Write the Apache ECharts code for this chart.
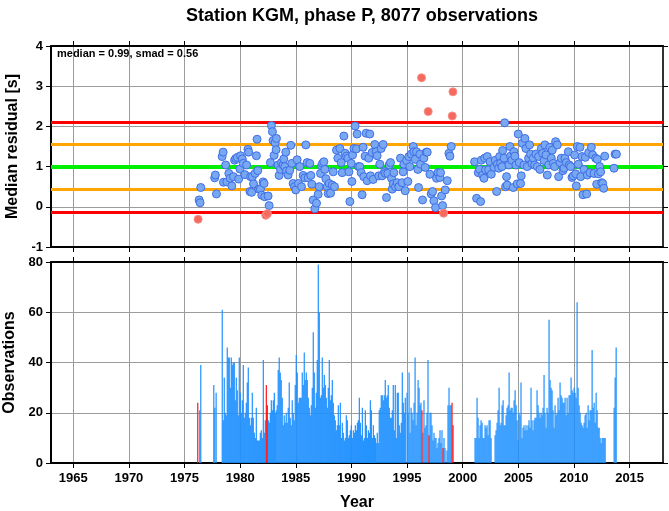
<!DOCTYPE html>
<html>
<head>
<meta charset="utf-8">
<script src="https://cdn.jsdelivr.net/npm/echarts@6/dist/echarts.min.js"></script>
<style>
html,body{margin:0;padding:0;background:#fff;}
#chart{width:669px;height:511px;}
</style>
</head>
<body>
<div id="chart"></div>
<script>
// ---------------- data ----------------
const chartTitle = 'Station KGM, phase P, 8077 observations';
const medianValue = 0.99;
const smadValue = 0.56;
const tickYears = [1965, 1970, 1975, 1980, 1985, 1990, 1995, 2000, 2005, 2010, 2015];
// reference lines: median +/- 2 smad (red), +/- 1 smad (orange), median (green)
const redLines = [2.11, -0.13];
const orangeLines = [1.55, 0.43];
const greenLines = [0.99];

// median residuals (blue points)
const residYears = [
1976.31,1976.40,1976.46,1977.71,1977.77,1977.87,1978.38,1978.47,1978.50,1978.70,1978.80,1978.98,1979.10,1979.25,1979.40,1979.50,1979.60,1979.75,1979.86,1979.98,
1980.04,1980.19,1980.28,1980.43,1980.58,1980.70,1980.76,1980.88,1980.94,1981.03,1981.10,1981.20,1981.34,1981.46,1981.52,1981.58,1981.67,1981.82,1981.94,1982.06,
1982.15,1982.21,1982.51,1982.60,1982.72,1982.81,1982.90,1982.96,1983.05,1983.14,1983.23,1983.26,1983.41,1983.50,1983.62,1983.71,1983.86,1983.92,1984.01,1984.10,
1984.16,1984.31,1984.46,1984.55,1984.64,1984.76,1984.88,1985.00,1985.12,1985.24,1985.36,1985.51,1985.66,1985.81,1985.90,1986.02,1986.11,1986.26,1986.35,1986.44,
1986.56,1986.71,1986.86,1987.01,1987.10,1987.22,1987.31,1987.40,1987.52,1987.61,1987.70,1987.82,1987.91,1988.00,
1988.12,1988.27,1988.36,1988.48,1988.66,1988.78,1988.96,1989.08,1989.17,1989.32,1989.44,1989.56,1989.68,1989.77,1989.86,1989.98,1990.04,1990.10,1990.22,1990.33,
1990.45,1990.51,1990.63,1990.75,1990.87,1990.96,1991.05,1991.11,1991.23,1991.32,1991.41,1991.56,1991.65,1991.71,1991.86,1991.95,1992.10,1992.22,1992.31,1992.46,
1992.55,1992.67,1992.76,1992.85,1992.97,1993.06,1993.15,1993.27,1993.39,1993.51,1993.60,1993.66,1993.75,1993.81,1993.96,1994.11,1994.26,1994.41,1994.56,1994.65,
1994.71,1994.83,1994.95,1995.07,1995.16,1995.25,1995.37,1995.55,1995.61,1995.73,1995.85,1995.97,1996.03,1996.15,1996.21,1996.39,1996.51,1996.63,1996.72,1996.81,
1997.05,1997.17,1997.29,1997.41,1997.56,1997.65,1997.77,1997.95,1998.01,1998.10,1998.19,1998.43,1998.61,1998.76,1998.85,1998.97,
2001.07,2001.25,2001.40,2001.52,2001.61,2001.67,2001.79,2001.91,2001.97,2002.06,2002.21,2002.33,2002.45,2002.57,2002.81,2002.93,2003.05,2003.11,2003.23,2003.32,
2003.41,2003.53,2003.59,2003.71,2003.77,2003.85,2003.94,2004.00,2004.15,2004.24,2004.30,2004.42,2004.54,2004.60,2004.69,2004.78,2004.90,2004.99,2005.08,2005.20,
2005.26,2005.35,2005.50,2005.59,2005.68,2005.80,2005.92,2006.01,2006.10,2006.22,2006.34,2006.46,2006.58,2006.70,2006.82,2006.94,2007.06,2007.18,2007.30,2007.39,
2007.48,2007.60,2007.72,2007.84,2007.96,2008.05,2008.14,2008.26,2008.35,2008.50,2008.62,2008.74,2008.86,2009.01,2009.10,2009.19,2009.31,2009.49,2009.58,2009.70,
2009.82,2009.94,2010.06,2010.15,2010.21,2010.30,2010.39,2010.54,2010.60,2010.72,2010.81,2010.90,2011.02,2011.14,2011.20,2011.32,2011.44,2011.56,2011.68,2011.80,
2011.95,2012.04,2012.10,2012.19,2012.31,2012.40,2012.49,2012.58,2012.67,2012.76,2013.60,2013.69,2013.81
];
const residValues = [
0.17,0.10,0.48,0.72,0.79,0.32,1.25,1.36,0.61,1.04,0.62,0.83,0.71,0.52,0.75,1.16,1.20,1.23,0.69,0.94,
1.27,1.19,1.08,0.80,1.04,1.43,1.36,0.38,0.75,0.36,0.75,0.57,0.83,1.27,1.68,0.90,0.44,0.44,0.29,0.62,
0.58,0.25,0.27,0.03,1.10,2.02,1.87,1.65,1.28,1.59,1.42,1.70,1.04,0.78,0.93,1.10,1.04,1.19,1.00,1.36,
0.89,0.79,0.91,1.53,1.08,0.58,0.50,0.42,1.17,0.58,1.00,0.50,0.78,0.72,1.54,1.10,0.72,1.08,0.78,0.56,
0.17,-0.05,0.09,0.31,0.50,0.83,1.02,1.08,1.12,0.93,0.70,0.50,0.33,0.58,
0.34,0.54,0.87,0.50,1.41,1.21,1.45,1.10,0.85,1.76,1.33,1.26,1.21,0.87,0.13,1.08,0.63,1.29,1.45,2.01,
1.44,1.81,1.00,1.00,0.85,0.30,1.48,0.75,1.26,1.83,0.65,1.21,1.81,0.77,1.35,0.68,1.55,1.37,1.27,0.77,
1.06,1.45,0.77,1.55,0.87,0.83,0.23,0.83,1.04,1.10,0.71,0.44,0.57,0.85,0.50,0.60,0.50,1.21,0.60,0.87,
1.06,0.40,1.15,0.63,1.25,1.00,1.31,1.50,1.37,1.18,1.37,0.93,0.48,1.31,1.06,0.17,1.21,0.98,1.36,1.36,
0.81,0.32,0.38,0.15,-0.02,0.71,0.85,0.73,0.85,0.27,0.03,0.42,0.65,1.33,1.26,1.50,
1.12,0.21,0.85,0.93,0.13,1.16,0.79,0.71,1.21,0.92,1.25,0.92,1.12,0.81,0.98,1.16,0.38,1.06,0.96,1.25,
1.08,1.00,1.40,1.21,2.09,0.50,0.75,0.54,1.04,1.50,1.26,1.16,0.48,1.37,1.26,1.04,0.57,1.81,1.10,0.58,
0.77,1.58,1.04,1.70,1.45,1.00,1.21,1.54,1.31,1.08,1.21,1.04,1.31,1.00,1.25,0.93,1.45,1.33,1.15,1.54,
1.29,0.79,1.04,1.48,1.21,1.41,1.08,1.00,1.62,1.54,0.75,1.10,1.21,0.90,0.96,1.21,1.10,1.37,1.04,1.00,
0.73,0.77,1.29,0.82,0.52,1.50,1.06,1.48,0.75,1.25,0.30,0.93,1.23,0.32,0.79,1.35,0.85,1.48,1.29,0.83,
1.21,0.56,1.18,0.82,1.00,0.87,0.60,0.58,0.46,1.26,0.96,1.31,1.31
];
// outlying median residuals (red points)
const outlierYears  = [1976.22, 1982.30, 1982.45, 1996.30, 1996.90, 1998.28, 1999.06, 1999.12];
const outlierValues = [-0.31, -0.21, -0.17, 3.21, 2.37, -0.16, 2.26, 2.86];

// observations per bin (blue bars)
const obsYears = [
1976.37,1976.46,1977.63,1977.72,1977.84,
1978.39,1978.48,1978.57,1978.66,1978.75,1978.84,1978.93,1979.02,1979.11,1979.20,1979.29,1979.38,1979.47,1979.56,1979.65,1979.74,1979.83,1979.92,1980.01,1980.10,
1980.19,1980.28,1980.37,1980.46,1980.55,1980.64,1980.73,1980.82,1980.91,1981.00,1981.09,1981.18,1981.27,1981.36,1981.45,1981.54,1981.63,1981.72,1981.81,1981.90,
1981.99,1982.08,1982.17,1982.26,1982.53,1982.62,1982.71,1982.80,1982.89,1982.98,1983.07,1983.16,1983.24,1983.33,1983.42,1983.51,1983.60,1983.69,1983.78,1983.87,
1983.96,1984.05,1984.14,1984.23,1984.32,1984.41,1984.50,1984.59,1984.68,1984.77,1984.86,1984.95,1985.04,1985.13,1985.22,1985.31,1985.40,1985.49,1985.58,1985.67,
1985.76,1985.85,1985.94,1986.03,1986.12,1986.21,1986.30,1986.39,1986.48,1986.57,1986.66,1986.75,1986.84,1986.93,1987.02,1987.11,1987.20,1987.29,1987.38,1987.47,
1987.56,1987.65,1987.74,1987.83,1987.92,1988.01,1988.10,1988.19,1988.28,1988.37,1988.46,1988.55,1988.64,1988.73,1988.82,1988.91,1989.00,1989.09,1989.18,1989.27,
1989.36,1989.45,1989.54,1989.63,1989.72,1989.81,1989.90,1989.99,1990.08,1990.17,1990.26,1990.35,1990.44,1990.53,1990.62,1990.71,1990.80,1990.89,1990.98,1991.07,
1991.16,1991.25,1991.34,1991.43,1991.52,1991.61,1991.70,1991.79,1991.88,1991.97,1992.06,1992.15,1992.23,1992.32,1992.41,1992.50,1992.59,1992.68,1992.77,1992.86,
1992.95,1993.04,1993.13,1993.22,1993.31,1993.40,1993.49,1993.58,1993.67,1993.76,1993.85,1993.94,1994.03,1994.12,1994.21,1994.30,1994.39,1994.48,1994.57,1994.66,
1994.75,1994.84,
1995.00,1995.09,1995.18,1995.27,1995.36,1995.45,1995.54,1995.63,1995.72,1995.81,1995.90,1995.99,1996.08,1996.17,1996.25,1996.43,1996.52,1996.61,1996.70,1996.79,
1996.88,1997.06,1997.15,1997.24,1997.33,1997.42,1997.51,1997.60,1997.69,1997.78,1997.87,1997.96,1998.05,1998.14,1998.32,1998.41,1998.59,1998.68,1998.77,1998.86,
1998.95,
2001.11,2001.20,2001.29,2001.38,2001.47,2001.56,2001.65,2001.74,2001.83,2001.92,2002.01,2002.10,2002.19,2002.28,2002.37,2002.46,2002.55,
2002.91,2003.00,2003.09,2003.18,2003.27,2003.36,2003.45,2003.54,2003.63,2003.72,2003.81,2003.90,2003.99,2004.08,2004.17,2004.26,2004.35,2004.44,2004.53,2004.62,
2004.71,2004.80,2004.89,2004.98,2005.06,2005.15,2005.24,2005.33,2005.42,2005.51,2005.60,2005.69,2005.78,2005.87,2005.96,2006.05,2006.14,2006.23,2006.32,2006.41,
2006.50,2006.59,2006.68,2006.77,2006.86,2006.95,2007.04,2007.13,2007.22,2007.31,2007.40,2007.49,2007.58,2007.67,2007.76,2007.85,2007.94,2008.03,2008.12,2008.21,
2008.30,2008.39,2008.48,2008.57,2008.66,2008.75,2008.84,2008.93,2009.02,2009.11,2009.20,2009.29,2009.38,2009.47,2009.56,2009.65,2009.74,2009.83,2009.92,2010.01,
2010.10,2010.19,2010.28,2010.37,2010.46,2010.55,2010.64,2010.73,2010.82,2010.91,2011.00,2011.09,2011.18,2011.27,2011.36,2011.45,2011.54,2011.63,2011.72,2011.81,
2011.90,2011.99,2012.08,2012.17,2012.26,2012.35,2012.44,2012.53,2012.62,2012.71,2012.80,
2013.61,2013.70,2013.79
];
const obsCounts = [
21,39,31,22,28,
61,17,34,20,19,46,42,42,30,42,39,40,40,25,34,29,19,42,28,20,
25,39,18,20,24,32,38,18,15,18,28,18,12,10,22,9,9,9,12,13,
10,41,12,17,17,16,20,25,21,25,28,20,21,23,37,42,36,33,26,15,
19,16,20,16,22,32,18,15,25,20,17,31,43,36,24,26,26,26,36,31,
44,33,36,33,26,22,19,23,30,52,36,22,28,41,79,60,26,27,42,30,
35,31,26,22,30,41,25,27,33,24,19,17,13,15,23,15,24,10,16,12,
9,10,19,17,10,11,13,15,10,13,12,15,13,16,17,26,16,11,22,9,
10,21,15,10,13,12,25,21,10,15,11,10,8,12,8,21,22,27,27,25,
27,33,26,27,31,22,18,18,21,31,13,31,10,28,28,15,12,16,36,24,
20,26,
28,20,36,12,22,20,17,24,42,15,20,33,30,23,24,12,25,14,15,20,
41,20,20,15,9,12,10,10,6,8,10,13,8,13,10,6,5,23,30,23,
23,
10,10,26,18,10,15,17,16,10,10,15,14,15,11,17,17,10,
11,13,16,21,30,15,16,23,25,15,15,19,22,23,36,21,22,22,20,25,
29,23,17,9,20,19,32,10,14,15,13,15,13,15,17,14,30,17,13,17,
18,18,29,23,20,18,20,19,22,35,20,14,22,20,57,33,30,29,21,14,
23,19,20,26,21,32,27,26,24,24,26,19,26,20,27,27,34,29,28,30,
28,26,64,30,23,20,16,15,14,16,19,20,14,23,17,21,21,45,22,24,
16,28,21,14,14,10,8,10,10,10,10,
22,34,46
];
// observations in bins with outlying medians (red bars)
const flagYears  = [1976.19, 1982.35, 1982.44, 1996.34, 1996.97, 1998.23, 1999.04, 1999.13];
const flagCounts = [24, 31, 23, 21, 11, 6, 24, 15];

// ---------------- chart ----------------
const FONT = '"Liberation Sans", Arial, Helvetica, sans-serif';
const GRID_LINE = '#9c9c9c';
const chart = echarts.init(document.getElementById('chart'), null, {renderer: 'canvas'});
const plainNum = v => String(v);

function bottomX(gridIndex, showLabels, name) {
  return {
    type: 'value', gridIndex: gridIndex, position: 'bottom', min: 1963, max: 2018, splitNumber: 10,
    name: name || '', nameLocation: 'middle', nameGap: 32,
    nameTextStyle: {fontFamily: FONT, fontWeight: 'bold', fontSize: 16, color: '#000'},
    axisLine: {show: true, onZero: false, lineStyle: {color: '#000', width: 2}},
    axisTick: {show: true, length: 5, customValues: tickYears, lineStyle: {color: '#000', width: 1}},
    axisLabel: {show: showLabels, customValues: tickYears, margin: 9, formatter: plainNum,
      fontFamily: FONT, fontWeight: 'bold', fontSize: 13, color: '#000'},
    splitLine: {show: true, lineStyle: {color: GRID_LINE, width: 1}}
  };
}
function topX(gridIndex) {
  return {
    type: 'value', gridIndex: gridIndex, position: 'top', min: 1963, max: 2018, splitNumber: 10,
    axisLine: {show: true, onZero: false, lineStyle: {color: '#000', width: 2}},
    axisTick: {show: true, length: 5, customValues: tickYears, lineStyle: {color: '#000', width: 1}},
    axisLabel: {show: false}, splitLine: {show: false}
  };
}
function leftY(gridIndex, min, max, interval, name) {
  return {
    type: 'value', gridIndex: gridIndex, position: 'left', min: min, max: max, interval: interval,
    name: name, nameLocation: 'middle', nameGap: 29,
    nameTextStyle: {fontFamily: FONT, fontWeight: 'bold', fontSize: 16, color: '#000'},
    axisLine: {show: true, onZero: false, lineStyle: {color: '#000', width: 2}},
    axisTick: {show: true, length: 5, lineStyle: {color: '#000', width: 1}},
    axisLabel: {show: true, margin: 8, formatter: plainNum, fontFamily: FONT, fontWeight: 'bold', fontSize: 13, color: '#000'},
    splitLine: {show: true, lineStyle: {color: GRID_LINE, width: 1}}
  };
}
function rightY(gridIndex, min, max, interval) {
  return {
    type: 'value', gridIndex: gridIndex, position: 'right', min: min, max: max, interval: interval,
    axisLine: {show: true, onZero: false, lineStyle: {color: '#333', width: 2}},
    axisTick: {show: true, length: 5, lineStyle: {color: '#000', width: 1}},
    axisLabel: {show: false}, splitLine: {show: false}
  };
}

const residData = residYears.map((y, i) => [y, residValues[i]]);
const outlierData = outlierYears.map((y, i) => [y, outlierValues[i]]);
const barData = obsYears.map((y, i) => ({value: [y, obsCounts[i]]}))
  .concat(flagYears.map((y, i) => ({value: [y, flagCounts[i]], itemStyle: {color: '#ff1414'}})));

const refLineData = []
  .concat(redLines.map(v => ({yAxis: v, lineStyle: {color: '#ff0000', width: 3, type: 'solid'}})))
  .concat(orangeLines.map(v => ({yAxis: v, lineStyle: {color: '#ffa500', width: 3, type: 'solid'}})))
  .concat(greenLines.map(v => ({yAxis: v, lineStyle: {color: '#00ee00', width: 4, type: 'solid'}})));

const option = {
  animation: false,
  backgroundColor: '#fff',
  title: {
    text: chartTitle, left: 357, top: 2, textAlign: 'center',
    textStyle: {fontFamily: FONT, fontWeight: 'bold', fontSize: 18, color: '#000'}
  },
  grid: [
    {left: 51, right: 6, top: 46, height: 201, containLabel: false, outerBoundsMode: 'none'},
    {left: 51, right: 6, top: 262, height: 201, containLabel: false, outerBoundsMode: 'none'}
  ],
  xAxis: [bottomX(0, false), topX(0), bottomX(1, true, 'Year'), topX(1)],
  yAxis: [
    leftY(0, -1, 4, 1, 'Median residual [s]'), rightY(0, -1, 4, 1),
    leftY(1, 0, 80, 20, 'Observations'), rightY(1, 0, 80, 20)
  ],
  graphic: [{
    type: 'text', left: 57, top: 48, z: 100,
    style: {text: 'median = ' + medianValue.toFixed(2) + ', smad = ' + smadValue.toFixed(2),
      font: 'bold 11px ' + FONT, fill: '#000'}
  }],
  series: [
    {
      type: 'scatter', xAxisIndex: 0, yAxisIndex: 0, data: [], z: 2, silent: true,
      markLine: {silent: true, symbol: 'none', label: {show: false}, animation: false, data: refLineData}
    },
    {
      type: 'scatter', xAxisIndex: 0, yAxisIndex: 0, data: residData, z: 5, symbolSize: 8,
      itemStyle: {color: '#78a8f2', borderColor: '#3f6ee6', borderWidth: 1, opacity: 1}
    },
    {
      type: 'scatter', xAxisIndex: 0, yAxisIndex: 0, data: outlierData, z: 5, symbolSize: 8,
      itemStyle: {color: '#f46a5e', borderColor: '#f98d84', borderWidth: 1, opacity: 1}
    },
    {
      type: 'bar', xAxisIndex: 2, yAxisIndex: 2, data: barData, barWidth: 1.2, z: 3,
      itemStyle: {color: '#1e90ff'}
    }
  ]
};
chart.setOption(option);
</script>
</body>
</html>
